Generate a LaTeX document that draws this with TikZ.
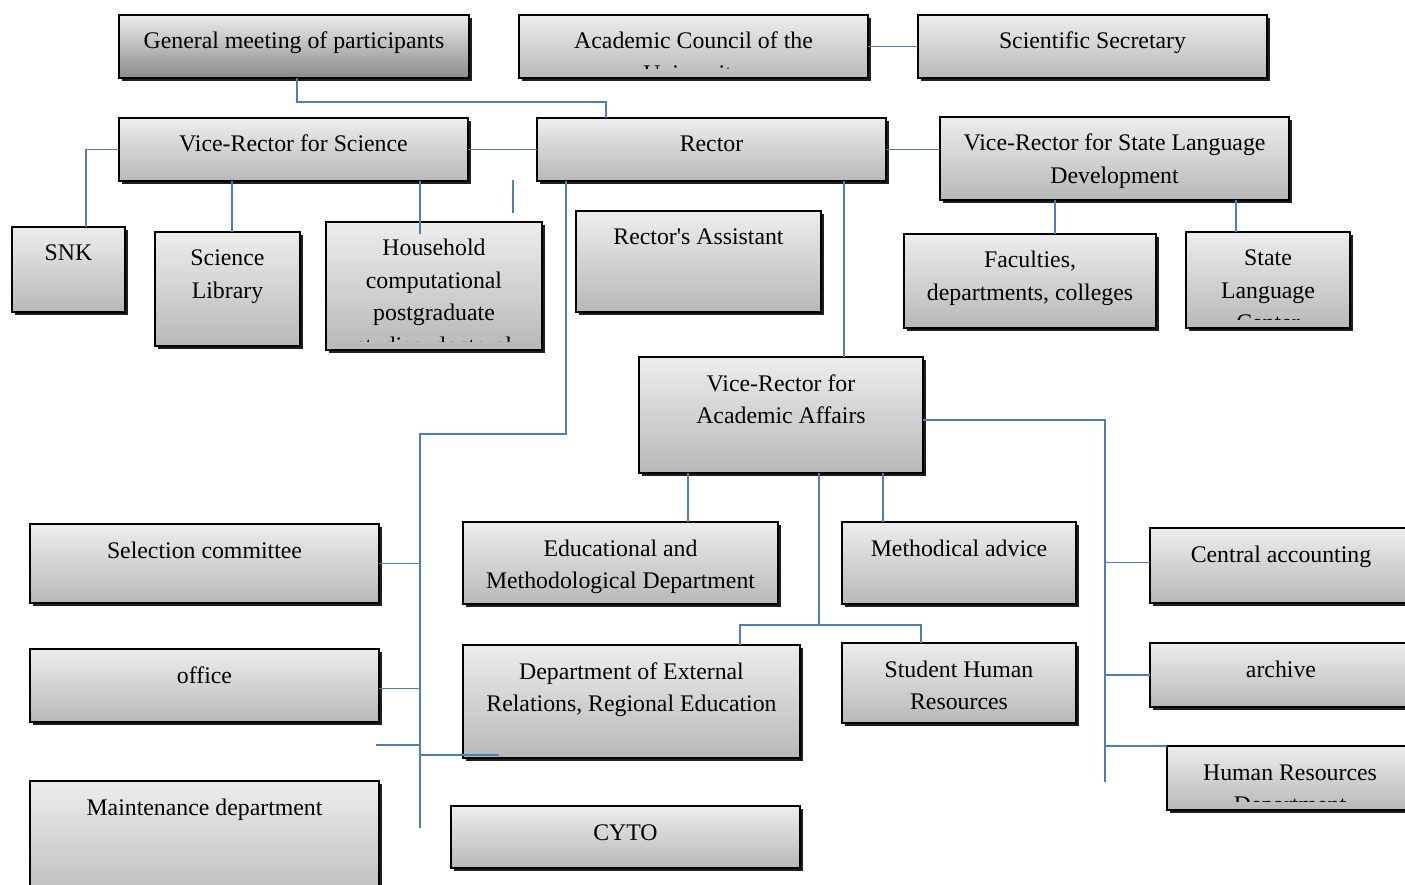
\documentclass[tikz,border=0pt]{standalone}
\usepackage{fontspec}
\setmainfont{Liberation Serif}
\newfontfamily\orgfont{Liberation Serif}
\usetikzlibrary{calc,shadows}
\definecolor{boxtop}{RGB}{237,237,237}
\definecolor{boxbot}{RGB}{184,184,184}
\definecolor{boxbotdark}{RGB}{138,138,138}
\definecolor{connblue}{RGB}{74,126,190}
\tikzset{
  orgbox/.style={draw=black, line width=1.1pt, top color=boxtop, bottom color=boxbot,
    inner sep=0pt, outer sep=0pt, anchor=north west,
    drop shadow={shadow xshift=3pt, shadow yshift=-3pt, fill=black!88, opacity=1}},
  orgtext/.style={inner sep=0pt, outer sep=0pt, anchor=base, font=\orgfont\fontsize{23.8}{32.5}\selectfont},
  connline/.style={draw=connblue, line width=1.7pt},
}
% #1 bottom colour, #2 name, #3 x1, #4 y1, #5 x2, #6 y2, #7 text
\newcommand\orgboxm[7][boxbot]{%
  \node[orgbox, bottom color=#1, minimum width={(#5-#3)*1pt}, minimum height={(#6-#4)*1pt}] (#2) at (#3,#4) {};
  \begin{scope}
    \clip (#3,#4) rectangle (#5,#6-9);
    \node[orgtext] (#2-t) at ({(#3+#5)/2},#4+34) {\parbox[t]{600pt}{\centering #7}};
  \end{scope}
}
\begin{document}
\begin{tikzpicture}[x=1pt,y=-1pt]
\useasboundingbox (0,0) rectangle (1405,885);
\clip (0,0) rectangle (1405,885);

% boxes
\orgboxm[boxbotdark]{gm}{119}{15}{469}{78}{General meeting of participants}
\orgboxm{ac}{519}{15}{868}{78}{Academic Council of the\\University}
\orgboxm{ss}{918}{15}{1267}{78}{Scientific Secretary}
\orgboxm{vrs}{119}{118}{468}{181}{Vice-Rector for Science}
\orgboxm{rector}{537}{118}{886}{181}{Rector}
\orgboxm{vrsl}{940}{117}{1289}{200}{Vice-Rector for State Language\\Development}
\orgboxm{snk}{12}{227}{125}{312}{SNK}
\orgboxm{lib}{155}{232}{300}{346}{Science\\Library}
\orgboxm{hh}{326}{222}{542}{350}{Household\\computational\\postgraduate\\studies, doctoral}
\orgboxm{ra}{576}{211}{821}{312}{Rector's Assistant}
\orgboxm{fac}{904}{234}{1156}{328}{Faculties,\\departments, colleges}
\orgboxm{slc}{1186}{232}{1350}{328}{State\\Language\\Center}
\orgboxm{vra}{639}{357}{923}{473}{Vice-Rector for\\Academic Affairs}
\orgboxm{sel}{30}{524}{379}{603}{Selection committee}
\orgboxm{off}{30}{649}{379}{722}{office}
\orgboxm{mnt}{30}{781}{379}{910}{Maintenance department}
\orgboxm{emd}{463}{522}{778}{604}{Educational and\\Methodological Department}
\orgboxm{ma}{842}{522}{1076}{604}{Methodical advice}
\orgboxm{ca}{1150}{528}{1412}{603}{Central accounting}
\orgboxm{arc}{1150}{643}{1412}{707}{archive}
\orgboxm{hrd}{1167}{746}{1413}{810}{Human Resources\\Department}
\orgboxm{der}{463}{645}{800}{758}{Department of External\\Relations, Regional Education}
\orgboxm{shr}{842}{643}{1076}{723}{Student Human\\Resources}
\orgboxm{cyto}{451}{806}{800}{868}{CYTO}

% helper coordinates
\coordinate (x86) at (86,0);
\coordinate (x232) at (232,0);
\coordinate (x297) at (297,0);
\coordinate (x420) at (420,0);
\coordinate (x566) at (566,0);
\coordinate (x606) at (606,0);
\coordinate (x688) at (688,0);
\coordinate (x740) at (740,0);
\coordinate (x819) at (819,0);
\coordinate (x844) at (844,0);
\coordinate (x883) at (883,0);
\coordinate (x921) at (921,0);
\coordinate (x1055) at (1055,0);
\coordinate (x1236) at (1236,0);
\coordinate (gmj) at (297,102);
\coordinate (trunktop) at (420,434);
\coordinate (trunkbot) at (420,828);
\coordinate (vraj) at (819,625);
\coordinate (rtop) at (1105,420);
\coordinate (rbot) at (1105,782);
\coordinate (stray1a) at (513,180);
\coordinate (stray1b) at (513,213);
\coordinate (stray2) at (376,745);
\coordinate (stray3) at (499,755);

% connectors
\draw[connline] (x297 |- gm.south) -- (gmj) -| (x606 |- rector.north);
\draw[connline] (ac.east) -- (ac.east -| ss.west);
\draw[connline] (vrs.east) -- (rector.west);
\draw[connline] (rector.east) -- (rector.east -| vrsl.west);
\draw[connline] (vrs.west) -| (x86 |- snk.north);
\draw[connline] (x232 |- vrs.south) -- (x232 |- lib.north);
\draw[connline] (x420 |- vrs.south) -- ($(x420 |- hh.north)+(0,12)$);
\draw[connline] (stray1a) -- (stray1b);
\draw[connline] (x566 |- rector.south) |- (trunktop) -- (trunkbot);
\draw[connline] (sel.east) -- (sel.east -| trunktop);
\draw[connline] ($(off.east)+(0,3)$) -- ($(off.east -| trunktop)+(0,3)$);
\draw[connline] (stray2) -- (stray2 -| trunktop);
\draw[connline] (stray3 -| trunktop) -- (stray3);
\draw[connline] (x844 |- rector.south) -- (x844 |- vra.north);
\draw[connline] (x688 |- vra.south) -- (x688 |- emd.north);
\draw[connline] (x883 |- vra.south) -- (x883 |- ma.north);
\draw[connline] (x819 |- vra.south) -- (vraj);
\draw[connline] (x740 |- der.north) |- (vraj) -| (x921 |- shr.north);
\draw[connline] (rtop -| vra.east) -- (rtop) -- (rbot);
\draw[connline] ($(rtop |- ca.west)+(0,-3)$) -- ($(ca.west)+(0,-3)$);
\draw[connline] (rtop |- arc.west) -- (arc.west);
\draw[connline] (rtop |- hrd.north west) -- (hrd.north west);
\draw[connline] (x1055 |- vrsl.south) -- (x1055 |- fac.north);
\draw[connline] (x1236 |- vrsl.south) -- (x1236 |- slc.north);
\end{tikzpicture}
\end{document}
